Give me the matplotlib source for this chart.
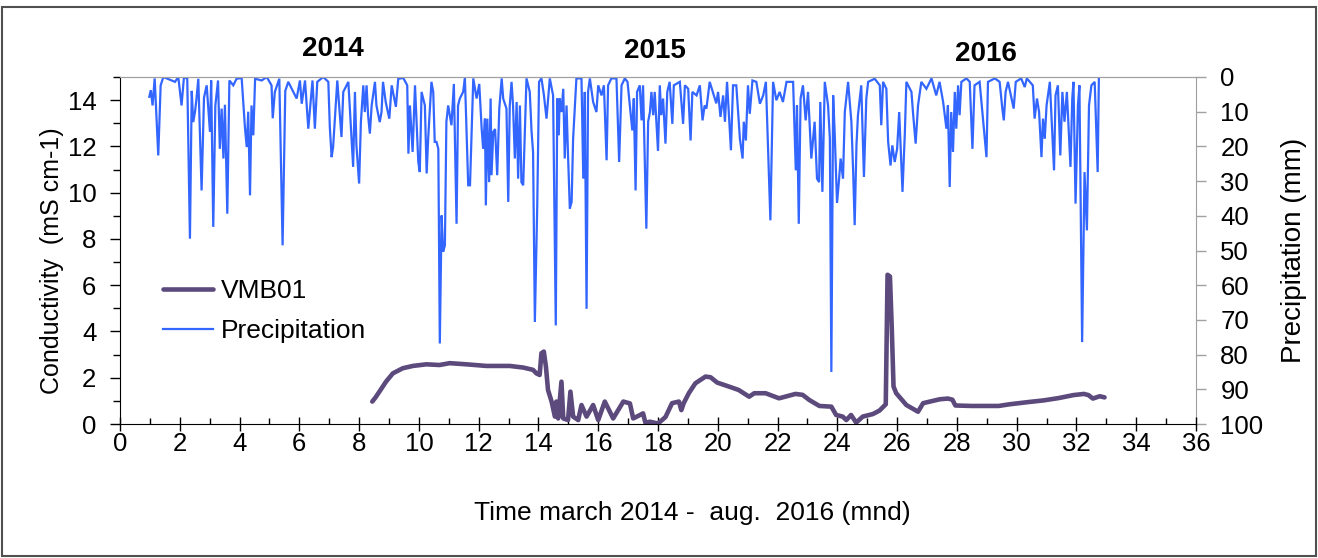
import matplotlib
matplotlib.use("Agg")
import matplotlib.pyplot as plt
from matplotlib.ticker import MultipleLocator
from matplotlib.lines import Line2D
from matplotlib.patches import Rectangle

plt.rcParams['font.family'] = ['Liberation Sans', 'DejaVu Sans']

# ---------------- data ----------------
cond_month = [8.44, 8.55, 8.68, 8.90, 9.13, 9.46, 9.80, 10.25, 10.69, 11.03, 11.59, 12.26,
              13.04, 13.49, 13.82, 13.93, 14.04, 14.10, 14.18, 14.25, 14.32, 14.44, 14.55,
              14.60, 14.66, 14.77, 14.83, 14.99, 15.07, 15.16, 15.33, 15.44, 15.61, 15.83,
              16.00, 16.22, 16.50, 16.84, 17.06, 17.17, 17.40, 17.50, 17.58, 17.73, 18.00,
              18.25, 18.47, 18.70, 18.78, 18.86, 19.03, 19.25, 19.59, 19.76, 19.98, 20.37,
              20.70, 21.05, 21.22, 21.60, 22.05, 22.60, 22.84, 23.06, 23.40, 23.80, 23.96,
              24.18, 24.30, 24.46, 24.63, 24.85, 25.19, 25.41, 25.62, 25.68, 25.76, 25.82,
              25.88, 25.97, 26.31, 26.70, 26.87, 27.10, 27.43, 27.70, 27.85, 27.95, 28.50,
              29.40, 29.75, 30.40, 30.90, 31.40, 31.90, 32.25, 32.40, 32.55, 32.78, 32.94]
cond_value = [0.97, 1.15, 1.40, 1.83, 2.19, 2.41, 2.51, 2.58, 2.55, 2.63, 2.58, 2.51,
              2.51, 2.44, 2.34, 2.19, 2.12, 3.06, 3.13, 2.48, 1.47, 0.97, 0.32,
              0.97, 0.24, 1.83, 0.24, 0.17, 1.40, 0.32, 0.17, 0.82, 0.32, 0.82,
              0.17, 0.97, 0.24, 0.97, 0.89, 0.24, 0.39, 0.46, 0.05, 0.10, 0.02,
              0.30, 0.90, 0.97, 0.60, 0.90, 1.33, 1.76, 2.05, 2.02, 1.79, 1.62,
              1.47, 1.18, 1.33, 1.33, 1.11, 1.30, 1.26, 1.04, 0.78, 0.75, 0.39,
              0.32, 0.17, 0.39, 0.06, 0.32, 0.43, 0.58, 0.85, 6.45, 6.38, 4.20,
              1.62, 1.33, 0.82, 0.53, 0.90, 0.97, 1.07, 1.10, 1.05, 0.80, 0.78,
              0.78, 0.85, 0.95, 1.02, 1.12, 1.25, 1.30, 1.25, 1.10, 1.20, 1.15]

precip_month = [0.98, 1.03, 1.09, 1.16, 1.28, 1.36, 1.45, 1.84, 1.95, 2.06, 2.14, 2.25, 2.34,
                2.40, 2.45, 2.51, 2.56, 2.62, 2.73, 2.81, 2.90, 3.01, 3.05, 3.12, 3.19, 3.28,
                3.34, 3.40, 3.46, 3.51, 3.59, 3.66, 3.79, 3.90, 4.07, 4.18, 4.24, 4.29, 4.35,
                4.40, 4.46, 4.52, 4.74, 4.91, 5.07, 5.11, 5.18, 5.33, 5.44, 5.53, 5.63, 5.91,
                6.02, 6.08, 6.19, 6.30, 6.35, 6.44, 6.52, 6.60, 6.80, 6.97, 7.02, 7.08, 7.13,
                7.19, 7.27, 7.41, 7.47, 7.64, 7.80, 7.86, 7.91, 8.00, 8.06, 8.14, 8.19, 8.25,
                8.30, 8.36, 8.42, 8.53, 8.58, 8.69, 8.75, 8.80, 8.89, 9.01, 9.09, 9.23, 9.31,
                9.48, 9.61, 9.65, 9.70, 9.79, 9.87, 9.98, 10.03, 10.09, 10.20, 10.26, 10.31,
                10.42, 10.48, 10.53, 10.59, 10.65, 10.70, 10.76, 10.81, 10.87, 10.92, 10.98,
                11.09, 11.17, 11.26, 11.31, 11.37, 11.48, 11.54, 11.65, 11.71, 11.82, 11.93,
                12.02, 12.10, 12.15, 12.21, 12.24, 12.29, 12.35, 12.40, 12.43, 12.49, 12.55,
                12.62, 12.69, 12.77, 12.82, 12.93, 12.99, 13.04, 13.10, 13.15, 13.21, 13.27,
                13.32, 13.38, 13.43, 13.49, 13.60, 13.71, 13.77, 13.82, 13.88, 13.96, 14.02,
                14.10, 14.18, 14.27, 14.38, 14.49, 14.58, 14.63, 14.68, 14.71, 14.77, 14.83,
                14.88, 14.94, 14.99, 15.05, 15.11, 15.16, 15.22, 15.27, 15.44, 15.50, 15.55,
                15.61, 15.66, 15.72, 15.83, 15.94, 16.00, 16.11, 16.19, 16.28, 16.33, 16.44,
                16.61, 16.70, 16.78, 16.89, 16.98, 17.14, 17.19, 17.25, 17.30, 17.39, 17.45,
                17.50, 17.61, 17.67, 17.73, 17.78, 17.84, 17.89, 18.00, 18.06, 18.11, 18.17,
                18.25, 18.31, 18.39, 18.48, 18.53, 18.73, 18.84, 18.90, 19.01, 19.09, 19.15,
                19.29, 19.40, 19.49, 19.56, 19.62, 19.73, 19.95, 20.01, 20.09, 20.18, 20.24,
                20.31, 20.44, 20.51, 20.62, 20.74, 20.83, 20.87, 20.94, 21.01, 21.07, 21.16,
                21.29, 21.41, 21.52, 21.61, 21.76, 21.85, 21.96, 22.07, 22.18, 22.30, 22.52,
                22.61, 22.65, 22.71, 22.77, 22.85, 22.94, 23.02, 23.13, 23.19, 23.24, 23.32,
                23.39, 23.43, 23.50, 23.58, 23.69, 23.75, 23.80, 23.86, 23.91, 23.99, 24.06,
                24.11, 24.19, 24.25, 24.36, 24.47, 24.53, 24.58, 24.64, 24.69, 24.80, 24.89,
                24.97, 25.03, 25.25, 25.42, 25.47, 25.53, 25.64, 25.70, 25.78, 25.84, 25.92,
                26.00, 26.07, 26.18, 26.26, 26.31, 26.48, 26.53, 26.62, 26.70, 26.81, 26.98,
                27.15, 27.31, 27.42, 27.54, 27.65, 27.70, 27.76, 27.81, 27.87, 27.93, 27.98,
                28.04, 28.09, 28.15, 28.32, 28.43, 28.52, 28.59, 28.76, 28.99, 29.04, 29.27,
                29.43, 29.52, 29.57, 29.63, 29.71, 29.90, 29.97, 30.15, 30.27, 30.34, 30.54,
                30.60, 30.68, 30.75, 30.83, 30.88, 30.94, 31.00, 31.11, 31.25, 31.30, 31.38,
                31.46, 31.53, 31.60, 31.68, 31.80, 31.86, 31.90, 31.97, 32.05, 32.10, 32.19,
                32.27, 32.35, 32.42, 32.50, 32.61, 32.71, 32.75]
precip_mm = [5.7, 3.8, 8.2, 0.4, 22.6, 2.4, 0.0, 1.4, 0.0, 8.2, 0.0, 0.5, 46.6,
             4.0, 13.0, 10.0, 6.2, 0.5, 32.7, 6.0, 2.4, 15.8, 1.0, 43.2, 8.2, 1.0,
             20.7, 9.1, 23.5, 8.0, 39.4, 1.0, 2.4, 0.5, 0.3, 14.5, 20.2, 10.0, 34.1,
             8.2, 16.8, 0.5, 1.0, 0.0, 2.4, 11.9, 4.3, 0.5, 48.5, 4.0, 1.4, 6.2,
             1.0, 7.7, 1.0, 14.9, 10.0, 1.0, 14.9, 1.4, 0.0, 1.4, 14.4, 23.1, 20.2,
             12.0, 1.0, 17.3, 4.3, 1.4, 25.9, 4.3, 19.7, 30.7, 12.9, 2.4, 10.1, 2.4,
             11.0, 16.3, 8.2, 1.4, 8.2, 13.0, 10.1, 1.4, 7.2, 12.0, 2.4, 8.6, 0.5,
             0.3, 2.4, 22.1, 8.2, 21.6, 2.4, 24.5, 27.4, 4.3, 8.2, 27.8, 17.8,
             1.4, 4.3, 18.7, 18.7, 20.7, 76.8, 39.9, 50.4, 48.5, 12.9, 8.2,
             13.9, 2.0, 42.3, 8.2, 6.2, 4.3, 0.4, 31.2, 31.2, 0.4, 6.2,
             2.0, 14.9, 20.7, 12.0, 37.0, 12.0, 30.3, 6.2, 28.3, 15.8, 15.0,
             28.3, 9.1, 0.4, 6.2, 9.1, 36.0, 8.2, 1.4, 8.2, 23.5, 7.2,
             29.3, 8.2, 30.3, 31.2, 0.4, 4.3, 15.8, 21.6, 70.6, 37.0, 1.4,
             0.4, 5.0, 12.0, 0.4, 5.3, 71.6, 6.2, 16.8, 6.2, 10.1, 3.4,
             23.5, 8.2, 22.6, 37.9, 36.0, 17.8, 8.2, 0.4, 0.4, 29.3, 4.3,
             66.8, 4.3, 0.4, 7.2, 10.1, 2.4, 5.3, 2.4, 24.0, 2.4, 0.4,
             0.4, 24.5, 2.4, 0.4, 1.4, 15.4, 6.2, 32.7, 4.3, 2.4, 12.5,
             2.4, 43.7, 12.9, 10.1, 4.3, 11.0, 4.3, 21.3, 2.4, 11.0, 6.2,
             19.2, 4.3, 1.4, 13.5, 2.4, 1.4, 13.5, 2.4, 3.4, 18.3, 4.3,
             5.3, 2.4, 12.5, 8.2, 9.1, 1.4, 7.6, 4.3, 11.5, 5.3, 12.9,
             1.4, 21.1, 2.4, 2.4, 17.8, 23.5, 12.9, 18.3, 2.4, 10.6, 1.0,
             1.4, 7.7, 5.3, 1.4, 41.3, 1.4, 6.7, 4.3, 7.2, 1.4, 1.4,
             26.9, 8.2, 42.3, 6.2, 2.4, 12.5, 4.3, 23.5, 17.8, 12.9, 29.3,
             30.3, 7.2, 33.1, 1.4, 8.2, 17.8, 85.0, 5.3, 15.8, 36.3, 29.3,
             23.5, 29.3, 10.1, 1.4, 12.9, 27.4, 42.7, 19.7, 11.0, 2.4, 28.8,
             6.2, 1.4, 0.5, 2.4, 13.9, 1.4, 3.4, 18.7, 25.5, 19.7, 24.5,
             20.7, 10.1, 33.1, 15.8, 1.4, 4.3, 10.1, 19.2, 8.2, 1.4, 3.4,
             0.4, 5.3, 1.4, 7.2, 14.9, 8.2, 31.7, 10.1, 21.6, 4.3, 14.9,
             2.4, 11.0, 1.4, 0.4, 1.4, 20.7, 2.4, 1.4, 23.1, 1.4, 0.4,
             1.4, 9.1, 12.5, 4.3, 1.4, 9.1, 1.4, 0.4, 2.9, 0.4, 2.4,
             12.0, 6.2, 10.1, 23.1, 12.0, 17.8, 8.2, 1.4, 26.9, 5.3, 2.4,
             22.6, 4.3, 12.9, 4.3, 25.9, 6.2, 1.4, 36.5, 8.2, 2.4, 76.4,
             27.4, 44.2, 8.2, 2.4, 1.4, 27.4, 0.4]

year_labels = ['2014', '2015', '2016']
x_ticks = list(range(0, 37, 2))
cond_ticks = list(range(0, 15, 2))
precip_ticks = list(range(0, 101, 10))

# ---------------- figure ----------------
W, H = 1318, 558
fig = plt.figure(figsize=(W / 100, H / 100), dpi=100)
L, R, T, B = 120, 1196, 77, 424
ax = fig.add_axes([L / W, 1 - B / H, (R - L) / W, (B - T) / H])
ax2 = ax.twinx()

precip_color = '#3366ff'
cond_color = '#5c4a7d'
grey = '#a0a0a0'

p_line, = ax2.plot(precip_month, precip_mm, color=precip_color, lw=1.6, solid_joinstyle='miter')
c_line, = ax.plot(cond_month, cond_value, color=cond_color, lw=3.3,
                  solid_capstyle='round', solid_joinstyle='round')

ax.set_zorder(ax2.get_zorder() + 1)
ax.patch.set_visible(False)

ax.set_xlim(0, 36)
ax.set_ylim(0, 15)
ax2.set_ylim(100, 0)

ax.set_xticks(x_ticks)
ax.xaxis.set_minor_locator(MultipleLocator(1))
ax.set_yticks(cond_ticks)
ax.yaxis.set_minor_locator(MultipleLocator(1))
ax2.set_yticks(precip_ticks)

fs_tick = 18.5
ax.tick_params(axis='x', which='major', direction='inout', length=10, width=1, pad=1, labelsize=fs_tick)
ax.tick_params(axis='x', which='minor', direction='in', length=4, width=1)
ax.tick_params(axis='y', which='major', direction='out', length=7, width=1, pad=10, labelsize=fs_tick)
ax.tick_params(axis='y', which='minor', direction='out', length=5, width=1)
ax2.tick_params(axis='y', which='major', direction='out', length=7, width=1, pad=10.5,
                labelsize=fs_tick, color=grey)

for s in ['left', 'bottom']:
    ax.spines[s].set_color('black')
ax.spines['top'].set_color(grey)
ax.spines['right'].set_visible(False)
ax2.spines['right'].set_color(grey)
ax2.spines['top'].set_color(grey)
ax2.spines['left'].set_visible(False)
ax2.spines['bottom'].set_visible(False)

ax.set_ylabel('Conductivity  (mS cm-1)', fontsize=18)
ax.yaxis.set_label_coords(-0.052, (B - 261) / (B - T))
ax2.set_ylabel('Precipitation (mm)', fontsize=20, labelpad=13)
ax.set_xlabel('Time march 2014 -  aug.  2016 (mnd)', fontsize=19, labelpad=32)
ax.xaxis.label.set_x((692 - L) / (R - L))

year_pos = [(333, 49), (655, 51), (986, 54)]
for lab, (px, py) in zip(year_labels, year_pos):
    fig.text(px / W, 1 - py / H, lab, ha='center', va='center', fontsize=20, fontweight='bold')

handles = [Line2D([], [], color=cond_color, lw=3.3, solid_capstyle='round'),
           Line2D([], [], color=precip_color, lw=1.6)]
ax.legend(handles, ['VMB01', 'Precipitation'], loc='upper left',
          bbox_to_anchor=((163 - L) / (R - L), (B - 279) / (B - T)),
          frameon=False, fontsize=19, handlelength=1.9, handletextpad=0.3,
          labelspacing=0.6, borderpad=0, borderaxespad=0)

fig.patches.append(Rectangle((2 / W, 2 / H), (W - 4) / W, (H - 9) / H,
                             transform=fig.transFigure, fill=False,
                             edgecolor='#505050', lw=1.5))

fig.savefig('out.png', dpi=100)
